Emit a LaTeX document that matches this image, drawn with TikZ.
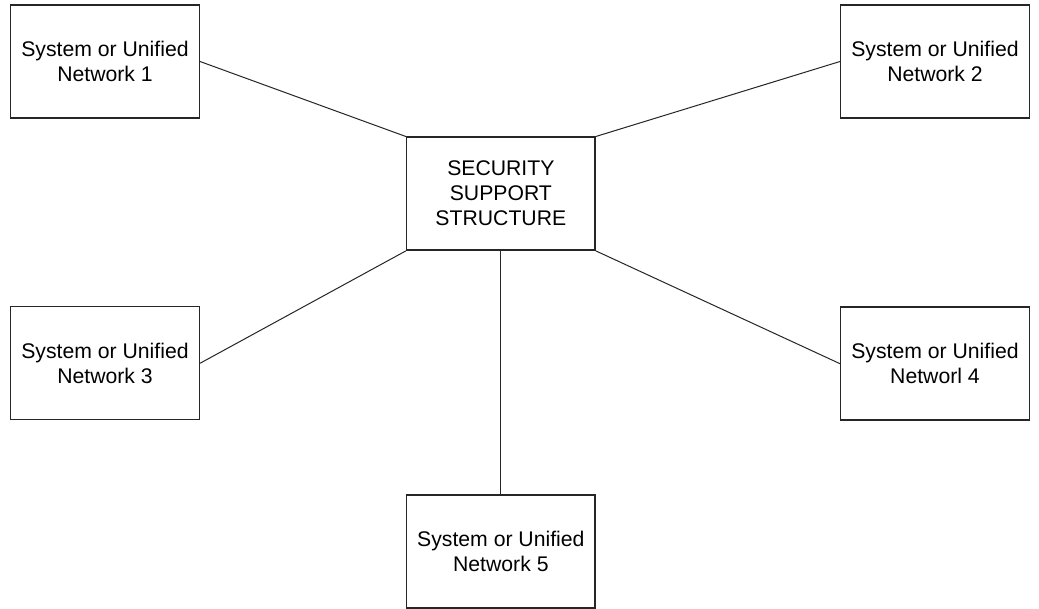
\documentclass[tikz,border=0pt]{standalone}
\usepackage{fontspec}
\setmainfont{Liberation Sans}
\begin{document}
\begin{tikzpicture}[x=1pt,y=-1pt,
  netbox/.style={draw=black!85, line width=1.4pt, rectangle, inner sep=0pt,
    minimum width=188.6pt, minimum height=113pt, align=center,
    font=\fontsize{21.2pt}{25pt}\selectfont},
  link/.style={draw=black!85, line width=1pt}]
  \useasboundingbox[fill=white] (0,0) rectangle (1039,609);
  % central hub and the five attached networks
  \node[netbox] (hub) at (500.85,193.7) {SECURITY\\SUPPORT\\STRUCTURE};
  \node[netbox] (n1) at (105,61.5) {System or Unified\\Network 1};
  \node[netbox] (n2) at (935,61.5) {System or Unified\\Network 2};
  \node[netbox] (n3) at (105,363.3) {System or Unified\\Network 3};
  \node[netbox] (n4) at (935,363.7) {System or Unified\\Networl 4};
  \node[netbox] (n5) at (500.85,551.3) {System or Unified\\Network 5};
  % connectors
  \draw[link] (n1.east) -- (hub.north west);
  \draw[link] (n2.west) -- (hub.north east);
  \draw[link] (hub.south west) -- (n3.east);
  \draw[link] (hub.south east) -- (n4.west);
  \draw[link] (hub.south) -- (n5.north);
\end{tikzpicture}
\end{document}
